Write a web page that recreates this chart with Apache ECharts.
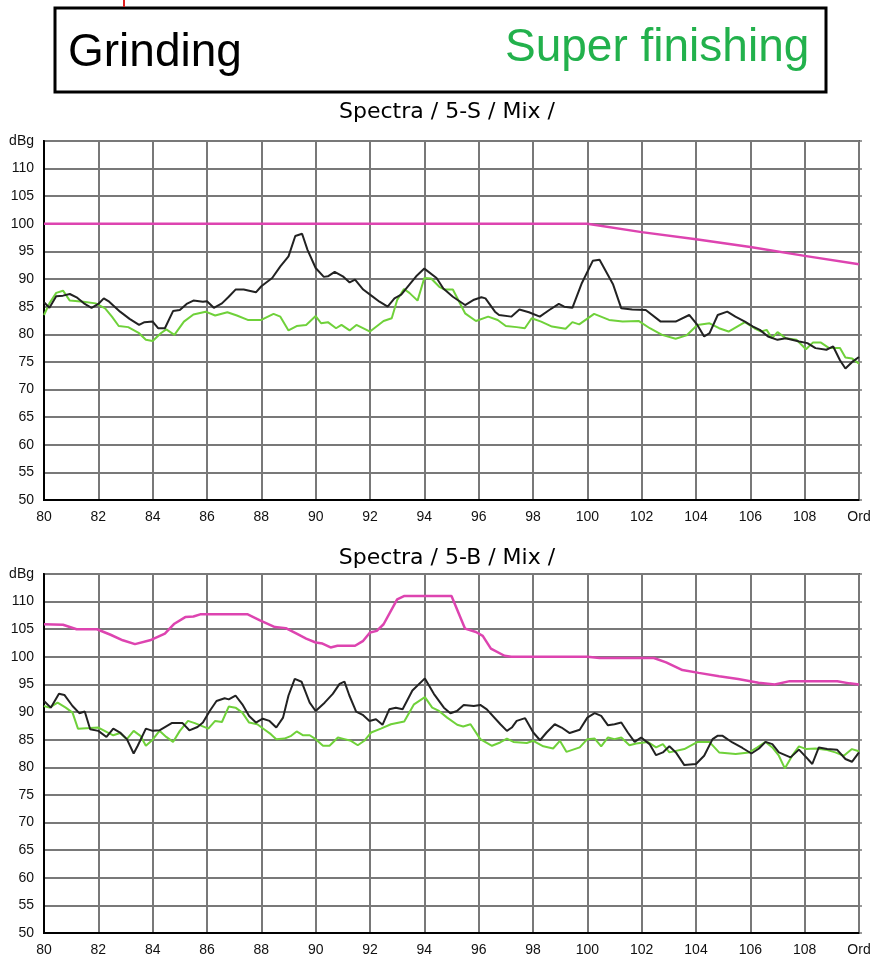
<!DOCTYPE html>
<html>
<head>
<meta charset="utf-8">
<script src="https://cdn.jsdelivr.net/npm/echarts@6/dist/echarts.min.js"></script>
<style>
  html, body { margin: 0; padding: 0; background: #fff; }
  #chart { width: 878px; height: 962px; }
</style>
</head>
<body>
<div id="chart"></div>
<script>
// values, [order, dBg]
const topGrinding = [
  [80,85.8],[80.2,84.8],[80.45,86.9],[80.7,87],[80.95,87.3],[81.2,86.7],[81.5,85.5],[81.75,84.8],[82,85.5],[82.2,86.5],
  [82.4,85.9],[82.8,84.1],[83.15,82.8],[83.5,81.7],[83.7,82.2],[84,82.3],[84.2,81.1],[84.45,81.1],[84.75,84.2],[85,84.4],
  [85.25,85.5],[85.5,86.1],[85.85,85.9],[86,86],[86.25,84.8],[86.55,85.6],[86.8,86.8],[87.05,88.1],[87.35,88.1],[87.8,87.6],
  [88,88.7],[88.4,90.2],[88.7,92.3],[89,94.1],[89.25,97.8],[89.5,98.2],[89.7,95.3],[90,92],[90.3,90.4],[90.45,90.5],
  [90.7,91.3],[91,90.5],[91.25,89.4],[91.45,89.9],[91.75,88.1],[92.05,87],[92.35,85.9],[92.65,85],[92.9,86.5],[93.15,87.2],
  [93.45,89],[93.7,90.5],[94,91.9],[94.45,90.2],[94.7,88.3],[95.05,86.8],[95.5,85.3],[95.8,86.2],[96.1,86.7],[96.25,86.5],
  [96.6,84.1],[96.75,83.5],[97.2,83.2],[97.5,84.5],[97.85,84],[98.25,83.2],[98.6,84.4],[98.95,85.5],[99.15,85],[99.45,84.8],
  [99.8,89.3],[100.2,93.3],[100.45,93.5],[100.95,89],[101.25,84.7],[101.65,84.5],[102.15,84.4],[102.7,82.3],[103.25,82.3],[103.75,83.5],
  [104.05,81.7],[104.3,79.6],[104.5,80.2],[104.8,83.5],[105.15,84.1],[105.45,83.2],[105.8,82.3],[106.1,81.4],[106.35,80.8],[106.65,79.6],
  [107,79],[107.3,79.3],[107.8,78.7],[108.1,78.4],[108.4,77.5],[108.8,77.2],[109.05,77.8],[109.3,75.3],[109.5,73.8],[109.75,75],[110,75.9]
]
const topSuper = [
  [80,83.5],[80.2,85.6],[80.45,87.5],[80.7,87.9],[80.95,86.1],[81.45,85.9],[81.9,85.6],[82.25,84.7],[82.5,83.2],[82.75,81.5],
  [83.1,81.3],[83.5,80.2],[83.75,79],[84,78.8],[84.3,80.2],[84.5,80.9],[84.8,79.9],[85.15,82.3],[85.5,83.6],[85.95,84.1],
  [86.3,83.4],[86.75,84],[87.1,83.4],[87.5,82.6],[88,82.6],[88.45,83.7],[88.7,83.2],[89,80.7],[89.3,81.5],[89.65,81.7],
  [90,83.3],[90.2,82],[90.45,82.2],[90.75,81.1],[90.95,81.7],[91.25,80.7],[91.5,81.7],[92,80.5],[92.5,82.4],[92.8,82.9],
  [93,86.2],[93.25,88.2],[93.45,87.5],[93.75,86.1],[94,90.2],[94.25,90.1],[94.55,88.6],[94.75,88.1],[95.05,88.1],[95.5,83.8],
  [95.9,82.4],[96.35,83.2],[96.7,82.6],[97,81.5],[97.4,81.3],[97.7,81.1],[97.95,82.9],[98.3,82.3],[98.7,81.4],[99.2,81],
  [99.45,82.2],[99.7,81.8],[100.25,83.7],[100.8,82.6],[101.3,82.3],[101.9,82.4],[102.3,81.1],[102.75,79.9],[103.25,79.2],[103.65,79.8],
  [104.05,81.7],[104.5,82],[104.85,81.1],[105.2,80.5],[105.8,82.2],[106.15,81.1],[106.4,80.5],[106.6,80.8],[106.8,79.3],[107,80.4],
  [107.3,79.3],[107.7,79],[108.05,77.3],[108.3,78.5],[108.6,78.5],[108.9,77.5],[109.3,77.5],[109.5,75.8],[109.75,75.6],[110,74.7]
]
const topLimit = [[80,100],[100,100],[102,98.5],[104,97.2],[106,95.8],[108,94.2],[110,92.7]]

const botGrinding = [
  [80,92],[80.25,90.8],[80.55,93.3],[80.75,93.1],[81.05,91.1],[81.3,89.8],[81.5,90.1],[81.7,86.9],[82,86.6],[82.3,85.5],
  [82.55,87],[82.8,86.3],[83.05,85.1],[83.3,82.5],[83.45,83.9],[83.75,87],[84,86.6],[84.25,86.7],[84.7,88],[85.1,88],
  [85.35,86.7],[85.65,87.3],[85.85,88.1],[86.1,90.2],[86.35,92],[86.65,92.5],[86.8,92.3],[87.05,93],[87.3,91.4],[87.55,89.3],
  [87.8,88.1],[88.05,88.8],[88.3,88.4],[88.55,87.2],[88.8,89],[89,93],[89.23,96],[89.48,95.5],[89.78,91.7],[90,90.2],
  [90.33,91.7],[90.63,93.3],[90.88,95.1],[91.06,95.5],[91.24,93],[91.49,90.1],[91.73,89.5],[91.98,88.4],[92.22,88.7],[92.46,87.7],
  [92.71,90.5],[92.95,90.8],[93.2,90.5],[93.56,93.9],[94.02,96.1],[94.35,93.3],[94.72,90.8],[94.96,89.8],[95.2,90.2],[95.45,91.3],
  [95.82,91.1],[96.06,91.3],[96.3,90.5],[96.8,87.8],[97.04,86.6],[97.22,87.2],[97.4,88.4],[97.71,88.9],[98.01,86.3],[98.26,84.9],
  [98.5,86.3],[98.8,87.8],[99.05,87.2],[99.35,86.2],[99.72,86.8],[100,89],[100.27,89.8],[100.51,89.3],[100.76,87.6],[101,87.8],
  [101.25,88.1],[101.49,86.3],[101.74,84.6],[101.98,85.4],[102.29,84.2],[102.53,82.2],[102.78,82.7],[103.02,83.8],[103.26,82.7],[103.57,80.4],
  [104,80.6],[104.3,82.1],[104.61,85.1],[104.79,85.7],[104.98,85.7],[105.34,84.5],[105.71,83.5],[106.04,82.5],[106.32,83.4],[106.56,84.6],
  [106.81,84.2],[107.05,82.7],[107.48,81.8],[107.79,83.2],[108.06,81.8],[108.28,80.6],[108.52,83.6],[108.83,83.3],[109.19,83.2],[109.5,81.5],
  [109.74,81],[110,82.7]
]
const botSuper = [
  [80,91.1],[80.2,90.8],[80.5,91.7],[80.8,90.8],[81.05,89.9],[81.25,87],[81.7,87.1],[82,87.2],[82.3,86.4],[82.55,85.8],
  [82.8,86.2],[83.05,85.1],[83.3,86.6],[83.55,85.7],[83.75,83.9],[84,85],[84.25,86.6],[84.5,85.5],[84.75,84.6],[85,86.6],
  [85.3,88.4],[85.55,88],[85.8,87.5],[86.05,87],[86.3,88.4],[86.55,88.2],[86.8,91],[87.05,90.8],[87.3,89.9],[87.55,88.1],
  [87.85,87.8],[88.1,86.9],[88.35,86],[88.55,85.1],[88.85,85.2],[89.1,85.7],[89.3,86.5],[89.54,85.8],[89.78,85.8],[90,85.1],
  [90.27,83.9],[90.51,83.9],[90.82,85.4],[91.06,85.1],[91.3,84.8],[91.55,84],[91.79,84.8],[92.04,86.3],[92.4,87],[92.77,87.8],
  [93.26,88.3],[93.62,91.4],[94.02,92.7],[94.29,90.8],[94.54,90.2],[94.84,89],[95.21,87.7],[95.43,87.4],[95.7,87.8],[96.06,85.1],
  [96.49,83.9],[96.79,84.5],[97.04,85.2],[97.28,84.6],[97.77,84.4],[98.01,84.8],[98.38,83.8],[98.74,83.4],[98.99,84.8],[99.23,82.8],
  [99.72,83.6],[100,85.1],[100.27,85.2],[100.51,83.8],[100.76,85.4],[101,85.1],[101.25,85.4],[101.55,84],[101.8,84.3],[102.22,84.6],
  [102.53,83.6],[102.78,84.2],[103.02,82.7],[103.57,83.3],[104.06,84.6],[104.49,84.6],[104.85,82.7],[105.46,82.4],[105.95,82.7],[106.26,83.6],
  [106.56,84.6],[106.81,83.6],[107.05,82.1],[107.27,79.8],[107.54,82.1],[107.79,83.8],[108.06,83.3],[108.4,83.4],[108.77,83.2],[109.13,82.7],
  [109.44,82.1],[109.74,83.3],[110,82.9]
]
const botLimit = [
  [80,105.9],[80.7,105.8],[81.2,105],[81.95,105],[82.45,104],[82.9,103],[83.35,102.3],[83.9,103],[84.45,104.2],[84.8,106],
  [85.2,107.2],[85.5,107.3],[85.75,107.7],[87.5,107.7],[87.95,106.6],[88.5,105.4],[88.9,105.2],[89.3,104.2],[89.65,103.3],[90,102.6],
  [90.25,102.4],[90.55,101.7],[90.8,102],[91.45,102],[91.75,102.9],[92,104.4],[92.25,104.7],[92.5,105.9],[93,110.4],[93.25,111],
  [95,111],[95.5,105.1],[95.9,104.5],[96.15,103.8],[96.45,101.5],[96.95,100.2],[97.2,100],[100,100],[100.45,99.8],[102.45,99.8],
  [102.9,99],[103.5,97.6],[104.1,97.1],[104.85,96.5],[105.55,96],[106.3,95.3],[106.9,95],[107.45,95.6],[109.2,95.6],[109.65,95.2],[110,95]
]

const panelTitles = ['Spectra / 5-S / Mix /', 'Spectra / 5-B / Mix /']

const chart = echarts.init(document.getElementById('chart'), null, { renderer: 'canvas' })

const gridLine = { color: '#787878', width: 2 }
const labelFont = { fontFamily: 'Liberation Sans, Arial, sans-serif', fontSize: 14, color: '#111' }

function xAxisFor(i) {
  return {
    type: 'value', gridIndex: i, min: 80, max: 110, interval: 2,
    axisLine: { lineStyle: { color: '#000', width: 2 } },
    axisTick: { show: false },
    splitLine: { show: true, lineStyle: gridLine },
    axisLabel: { ...labelFont, margin: 10, formatter: v => (v === 110 ? 'Ord' : v) },
  }
}
function yAxisFor(i) {
  return {
    type: 'value', gridIndex: i, min: 50, max: 115, interval: 5,
    axisLine: { show: true, lineStyle: { color: '#000', width: 2 } },
    axisTick: { show: false },
    splitLine: { show: true, lineStyle: gridLine },
    axisLabel: { ...labelFont, margin: 10, formatter: v => (v === 115 ? 'dBg' : v) },
  }
}
// short ticks poking out on the right edge
function rightTicksFor(i) {
  return {
    type: 'value', gridIndex: i, position: 'right', min: 50, max: 115, interval: 5,
    axisLine: { show: false },
    axisTick: { show: true, length: 3, lineStyle: { color: '#787878', width: 1.5 } },
    axisLabel: { show: false },
    splitLine: { show: false },
  }
}

function line(data, i, color, width) {
  return {
    type: 'line', xAxisIndex: i, yAxisIndex: i * 2, data,
    showSymbol: false, smooth: false, animation: false,
    lineStyle: { color, width }, z: 3,
  }
}

const option = {
  animation: false,
  backgroundColor: '#fff',
  title: [
    { text: 'Grinding', left: 68, top: 30, padding: 0,
      textStyle: { fontFamily: 'Liberation Sans, Arial, sans-serif', fontSize: 46, fontWeight: 'normal', color: '#000' } },
    { text: 'Super finishing', left: 505, top: 25, padding: 0,
      textStyle: { fontFamily: 'Liberation Sans, Arial, sans-serif', fontSize: 46, fontWeight: 'normal', color: '#22b14c' } },
    { text: panelTitles[0], left: 447, top: 101, textAlign: 'center', padding: 0,
      textStyle: { fontFamily: 'DejaVu Sans, sans-serif', fontSize: 22, fontWeight: 'normal', color: '#000' } },
    { text: panelTitles[1], left: 447, top: 547, textAlign: 'center', padding: 0,
      textStyle: { fontFamily: 'DejaVu Sans, sans-serif', fontSize: 22, fontWeight: 'normal', color: '#000' } },
  ],
  graphic: [
    { type: 'rect', shape: { x: 55, y: 8, width: 771, height: 84 },
      style: { fill: 'none', stroke: '#000', lineWidth: 3 } },
    { type: 'line', shape: { x1: 124, y1: 0, x2: 124, y2: 7 },
      style: { stroke: '#e02020', lineWidth: 2 } },
  ],
  grid: [
    { left: 44, top: 141, width: 815, height: 359, show: true, borderColor: '#000', borderWidth: 2 },
    { left: 44, top: 574, width: 815, height: 359, show: true, borderColor: '#000', borderWidth: 2 },
  ],
  xAxis: [xAxisFor(0), xAxisFor(1)],
  yAxis: [yAxisFor(0), rightTicksFor(0), yAxisFor(1), rightTicksFor(1)],
  series: [
    line(topSuper, 0, '#6fd13a', 2),
    line(topGrinding, 0, '#222', 2),
    line(topLimit, 0, '#dd44b0', 2.5),
    line(botSuper, 1, '#6fd13a', 2),
    line(botGrinding, 1, '#222', 2),
    line(botLimit, 1, '#dd44b0', 2.5),
  ],
}

chart.setOption(option)
</script>
</body>
</html>
